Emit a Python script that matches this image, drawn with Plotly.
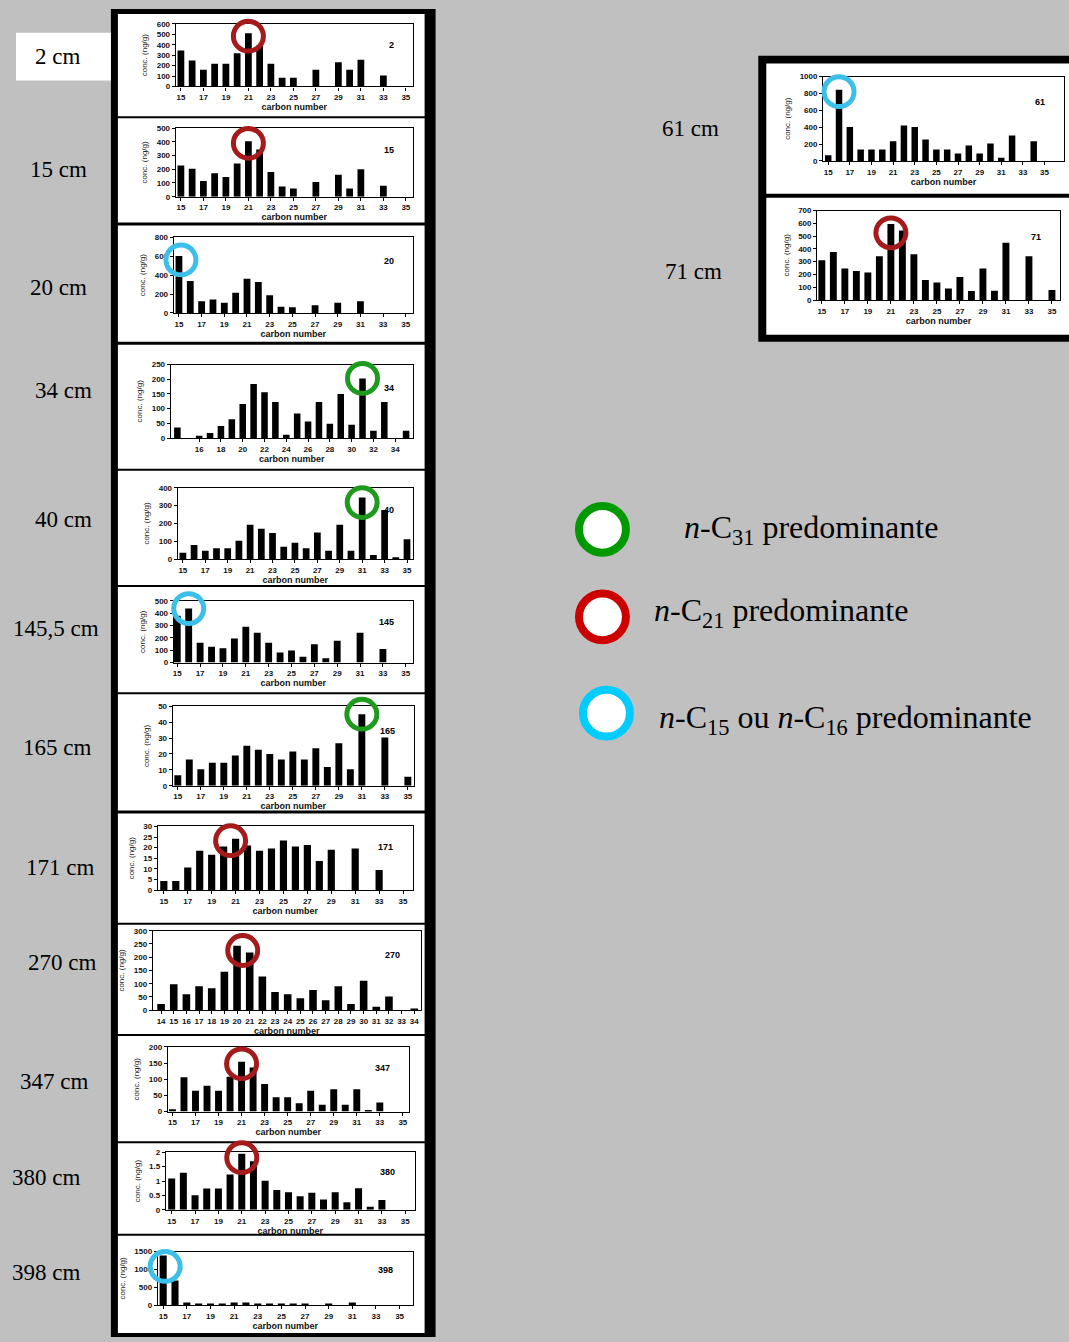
import plotly.graph_objects as go

W, H = 1069, 1342

# ---------------------------------------------------------------- data
carbon = list(range(15, 36))          # C15 .. C35
carbon_34cm = list(range(14, 36))     # C14 .. C35
carbon_270cm = list(range(14, 35))    # C14 .. C34

conc_2cm = [345, 249, 160, 217, 217, 319, 511, 393, 217, 83, 83, None, 160, None,
            233, 160, 255, None, 105, None, None]
conc_15cm = [228, 204, 115, 171, 144, 243, 404, 344, 180, 75, 60, None, 108, None,
             161, 60, 200, None, 79, None, None]
conc_20cm = [604, 338, 124, 142, 107, 213, 363, 327, 188, 64, 60, None, 82, None,
             107, None, 124, None, None, None, None]
conc_34cm = [36, None, 8, 17, 41, 64, 116, 184, 156, 123, 11, 84, 56, 123, 49,
             150, 45, 203, 25, 123, None, 25]
conc_40cm = [37, 79, 48, 61, 61, 103, 193, 171, 147, 70, 92, 61, 149, 48,
             193, 48, 345, 24, 275, 11, 112]
conc_145cm = [380, 438, 161, 129, 116, 196, 290, 242, 161, 81, 97, 48, 148, 35,
              177, None, 242, None, 110, None, None]
conc_165cm = [6.6, 16.5, 10.3, 14.5, 14.5, 19, 25.2, 22.7, 20, 16.5, 21.5, 16.5, 23.6, 11.8,
              26.7, 10.3, 45, None, 30.4, None, 5.6]
conc_171cm = [4.3, 4.3, 10.6, 18.5, 16.6, 20.5, 24.2, 21, 18.5, 19.6, 23.4, 20.5, 21.3, 13.7,
              19, None, 19.6, None, 9.5, None, None]
conc_270cm = [23, 98, 60, 90, 83, 145, 243, 218, 127, 69, 60, 45, 76, 38, 90,
              23, 111, 13, 52, None, 6]
conc_347cm = [7, 106, 64, 80, 64, 108, 154, 136, 85, 44, 44, 26, 64, 21,
              69, 21, 69, 2, 28, None, None]
conc_380cm = [1.09, 1.29, 0.51, 0.74, 0.74, 1.23, 1.95, 1.69, 1.01, 0.69, 0.61, 0.47, 0.59, 0.36,
              0.61, 0.26, 0.75, 0.11, 0.34, None, None]
conc_398cm = [1389, 694, 74, 19, 19, 19, 74, 74, 46, 19, 19, 19, 19, None,
              19, None, 74, None, None, None, None]
conc_61cm = [66, 844, 401, 136, 136, 136, 233, 420, 401, 253, 136, 136, 89, 183,
             89, 206, 39, 300, None, 233, None]
conc_71cm = [311, 376, 246, 228, 215, 342, 596, 544, 358, 156, 137, 91, 181, 70,
             246, 73, 449, None, 342, None, 78]

ticks_odd = list(range(15, 36, 2))
ticks_even = list(range(16, 35, 2))
ticks_all = list(range(14, 35))

# ------------------------------------------------------------ helpers
def fx(px):
    return px / W


def fy(py):
    return 1 - py / H


C_RED, C_GREEN, C_BLUE = "#a51a1a", "#1e9a1e", "#3cbfe8"

# carbons, values, sample id, depth label, label centre, frame (x0, y0, x1, y1),
# x range, y max, y step, x ticks, highlighted carbon, ring colour, ring offset (px, px up)
panels = [
    (carbon, conc_2cm, "2", "2 cm", (57, 53), (175, 20, 412, 83), (14.55, 35.6), 600, 100, ticks_odd, 21, C_RED, (0, -3)),
    (carbon, conc_15cm, "15", "15 cm", (58, 167), (175, 125, 412, 194), (14.55, 35.6), 500, 100, ticks_odd, 21, C_RED, (0, -2)),
    (carbon, conc_20cm, "20", "20 cm", (58, 285), (173, 235, 412, 311), (14.55, 35.6), 800, 200, ticks_odd, 15, C_BLUE, (2, -4)),
    (carbon_34cm, conc_34cm, "34", "34 cm", (63, 389), (170, 363, 412, 437), (13.4, 35.6), 250, 50, ticks_even, 31, C_GREEN, (0, 0)),
    (carbon, conc_40cm, "40", "40 cm", (63, 519), (177, 487, 412, 559), (14.55, 35.5), 400, 100, ticks_odd, 31, C_GREEN, (0, -5)),
    (carbon, conc_145cm, "145", "145,5 cm", (55, 629), (173, 601, 412, 663), (14.7, 35.6), 500, 100, ticks_odd, 16, C_BLUE, (0, 0)),
    (carbon, conc_165cm, "165", "165 cm", (56, 749), (172, 707, 413, 787), (14.57, 35.5), 50, 10, ticks_odd, 31, C_GREEN, (0, 0)),
    (carbon, conc_171cm, "171", "171 cm", (59, 869), (157, 828, 412, 892), (14.5, 35.8), 30, 5, ticks_odd, 21, C_RED, (-5, -2)),
    (carbon_270cm, conc_270cm, "270", "270 cm", (61, 965), (152, 933, 420, 1013), (13.35, 34.5), 300, 50, ticks_all, 21, C_RED, (-7, 2)),
    (carbon, conc_347cm, "347", "347 cm", (53, 1085), (167, 1050, 408, 1115), (14.6, 35.5), 200, 50, ticks_odd, 21, C_RED, (0, -2)),
    (carbon, conc_380cm, "380", "380 cm", (45, 1181), (165, 1156, 414, 1214), (14.5, 35.8), 2, 0.5, ticks_odd, 21, C_RED, (0, -4)),
    (carbon, conc_398cm, "398", "398 cm", (45, 1277), (157, 1256, 412, 1310), (14.55, 36.1), 1500, 500, ticks_odd, 15, C_BLUE, (2, -11)),
    (carbon, conc_61cm, "61", "61 cm", (690, 125), (823, 73, 1064, 158), (14.54, 36.8), 1000, 200, ticks_odd, 16, C_BLUE, (0, -2)),
    (carbon, conc_71cm, "71", "71 cm", (693, 269), (817, 208, 1060, 298), (14.6, 35.7), 700, 100, ticks_odd, 21, C_RED, (0, -9)),
]

fig = go.Figure()
shapes = []
annotations = []


def rect(x0, y0, x1, y1, fill):
    shapes.append(dict(type="rect", xref="paper", yref="paper", layer="below",
                       x0=fx(x0), x1=fx(x1), y0=fy(y1), y1=fy(y0),
                       fillcolor=fill, line=dict(width=0)))


def ring(cx, cy, r, color, width, fill="rgba(0,0,0,0)"):
    shapes.append(dict(type="circle", xref="paper", yref="paper",
                       x0=fx(cx - r), x1=fx(cx + r), y0=fy(cy + r), y1=fy(cy - r),
                       line=dict(color=color, width=width), fillcolor=fill))


# black mounting strips and white chart cards
rect(110, 5, 435, 1342, "black")
for y0, y1 in [(10, 113), (115, 220), (223, 340), (343, 468), (470, 585), (587, 693),
               (695, 812), (815, 925), (927, 1037), (1039, 1145), (1147, 1238), (1240, 1338)]:
    rect(117, y0, 424, y1, "white")
rect(758, 52, 1069, 340, "black")
rect(766, 60, 1069, 191, "white")
rect(766, 195, 1069, 333, "white")
rect(15, 29, 110, 77, "white")

tick_font = dict(family="Arial", size=8, color="#111", weight="bold")
axis_style = dict(showline=True, mirror=True, linecolor="black", linewidth=1.3,
                  ticks="outside", ticklen=3, tickwidth=1, tickcolor="black",
                  showgrid=False, zeroline=False, fixedrange=True, tickfont=tick_font)

layout_axes = {}
for i, (cs, vals, sid, depth, (lx, ly), (x0, y0, x1, y1), xr, ymax, ystep,
        xticks, peak, col, (dx, dy)) in enumerate(panels, start=1):
    sfx = "" if i == 1 else str(i)
    xa, ya = f"x{sfx}", f"y{sfx}"
    fig.add_trace(go.Bar(x=cs, y=vals, width=0.6, marker=dict(color="black", line=dict(width=0)),
                         xaxis=xa, yaxis=ya, showlegend=False, hoverinfo="x+y"))
    layout_axes[f"xaxis{sfx}"] = dict(
        axis_style, domain=[fx(x0), fx(x1)], range=list(xr), anchor=ya,
        tickvals=xticks, ticktext=[str(t) for t in xticks],
        title=dict(text="carbon number", standoff=1,
                   font=dict(family="Arial", size=9, color="#111", weight="bold")))
    layout_axes[f"yaxis{sfx}"] = dict(
        axis_style, domain=[fy(y1), fy(y0)], range=[0, ymax], anchor=xa,
        tick0=0, dtick=ystep,
        title=dict(text="conc. (ng/g)", standoff=7,
                   font=dict(family="Arial", size=8, color="#222")))
    # sample number in the upper-right corner of each chart
    annotations.append(dict(xref=f"{xa} domain", yref=f"{ya} domain", x=0.93, y=0.78,
                            text=sid, showarrow=False,
                            font=dict(family="Arial", size=9, color="black", weight="bold")))
    # depth label beside the chart
    annotations.append(dict(xref="paper", yref="paper", x=fx(lx), y=fy(ly), text=depth,
                            showarrow=False, xanchor="center", yanchor="middle",
                            font=dict(family="Liberation Serif", size=23, color="black")))
    # ring around the predominant homologue, placed at the top of its bar
    # (mapped through the same axis range so it may overflow the frame)
    pv = vals[cs.index(peak)]
    bar_x = x0 + (peak - xr[0]) / (xr[1] - xr[0]) * (x1 - x0)
    bar_top = y1 - pv / ymax * (y1 - y0)
    ring(bar_x + dx, bar_top - dy, 15, col, 5)

# key of ring colours
legend_items = [
    ((602, 529), "#009900", (682, 529), "<i>n</i>-C<sub>31</sub> predominante"),
    ((602, 617), "#cc0000", (652, 613), "<i>n</i>-C<sub>21</sub> predominante"),
    ((606, 714), "#00ccff", (657, 720), "<i>n</i>-C<sub>15</sub> ou <i>n</i>-C<sub>16</sub> predominante"),
]
for (cx, cy), col, (tx, ty), txt in legend_items:
    ring(cx, cy, 23.5, col, 8, fill="white")
    annotations.append(dict(xref="paper", yref="paper", x=fx(tx), y=fy(ty), text=txt,
                            showarrow=False, xanchor="left", yanchor="middle",
                            font=dict(family="Liberation Serif", size=32, color="black")))

fig.update_layout(
    width=W, height=H, margin=dict(l=0, r=0, t=0, b=0),
    paper_bgcolor="#c0c0c0", plot_bgcolor="white",
    shapes=shapes, annotations=annotations, showlegend=False,
    bargap=0.4, **layout_axes,
)

fig.write_html("out.html", config={"displayModeBar": False})
